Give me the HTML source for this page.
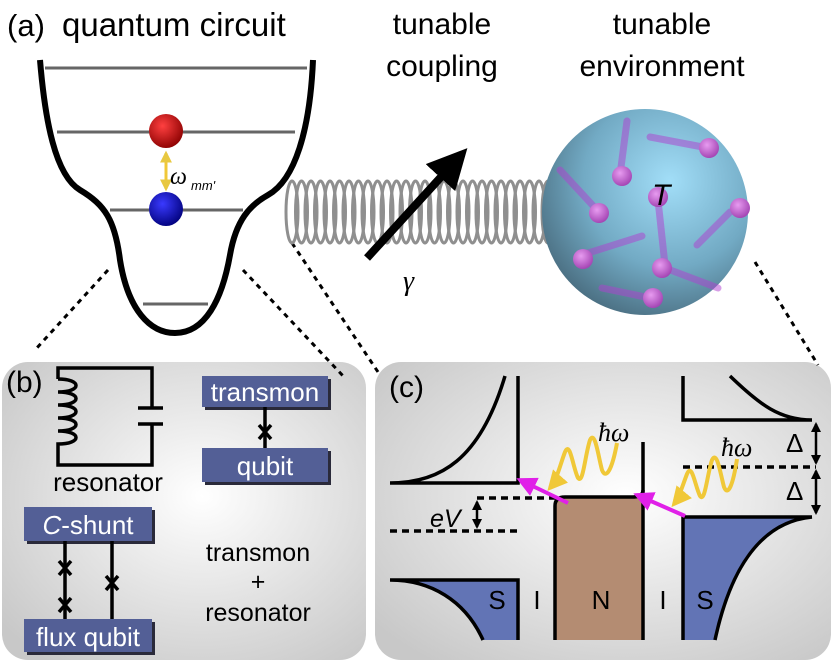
<!DOCTYPE html>
<html><head><meta charset="utf-8"><style>
html,body{margin:0;padding:0;background:#fff;}
svg{display:block;font-family:"Liberation Sans",sans-serif;}
</style></head><body>
<svg width="831" height="661" viewBox="0 0 831 661" xmlns="http://www.w3.org/2000/svg">
<defs>
<radialGradient id="pg" cx="0.55" cy="0.45" r="0.7"><stop offset="0" stop-color="#ffffff"/><stop offset="1" stop-color="#c8c8c8"/></radialGradient>
<radialGradient id="sph" cx="0.62" cy="0.35" r="0.7"><stop offset="0" stop-color="#a2def8"/><stop offset="0.6" stop-color="#72aac4"/><stop offset="1" stop-color="#4b6f82"/></radialGradient>
<radialGradient id="red" cx="0.4" cy="0.35" r="0.7"><stop offset="0" stop-color="#ff4040"/><stop offset="1" stop-color="#8a0000"/></radialGradient>
<radialGradient id="blue" cx="0.4" cy="0.35" r="0.7"><stop offset="0" stop-color="#3a3aff"/><stop offset="1" stop-color="#00007a"/></radialGradient>
<radialGradient id="pur" cx="0.4" cy="0.35" r="0.7"><stop offset="0" stop-color="#e79bf0"/><stop offset="1" stop-color="#a040b0"/></radialGradient>
<marker id="ah" viewBox="0 0 10 10" refX="8" refY="5" markerWidth="5" markerHeight="5" orient="auto"><path d="M0,0L10,5L0,10z" fill="#000"/></marker>
<marker id="mh" viewBox="0 0 10 10" refX="8" refY="5" markerWidth="5" markerHeight="5" orient="auto"><path d="M0,0L10,5L0,10z" fill="#e020e8"/></marker>
<marker id="yh" viewBox="0 0 10 10" refX="8" refY="5" markerWidth="5" markerHeight="5" orient="auto"><path d="M0,0L10,5L0,10z" fill="#f0c838"/></marker>
<marker id="bh" viewBox="0 0 10 10" refX="8" refY="5" markerWidth="4" markerHeight="4" orient="auto-start-reverse"><path d="M0,0L10,5L0,10z" fill="#000"/></marker>
<marker id="gh" viewBox="0 0 10 10" refX="8" refY="5" markerWidth="4" markerHeight="4" orient="auto-start-reverse"><path d="M0,0L10,5L0,10z" fill="#e8c840"/></marker>
</defs>

<rect x="2" y="362" width="364" height="298" rx="26" fill="url(#pg)"/>
<rect x="375" y="362" width="456" height="298" rx="26" fill="url(#pg)"/>

<text x="7" y="36" font-size="31">(a)</text>
<text x="62" y="36" font-size="33">quantum circuit</text>
<text x="442" y="34" font-size="30" text-anchor="middle">tunable</text>
<text x="442" y="76" font-size="30" text-anchor="middle">coupling</text>
<text x="662" y="34" font-size="30" text-anchor="middle">tunable</text>
<text x="662" y="76" font-size="30" text-anchor="middle">environment</text>

<g stroke="#000" stroke-width="3" stroke-dasharray="5,5" fill="none">
<line x1="108" y1="270" x2="35" y2="350"/>
<line x1="243" y1="270" x2="345" y2="378"/>
<line x1="292" y1="243" x2="380" y2="375"/>
<line x1="755" y1="262" x2="818" y2="365"/>
</g>

<g stroke="#666" stroke-width="3">
<line x1="45" y1="68" x2="307" y2="68"/>
<line x1="57" y1="132" x2="295" y2="132"/>
<line x1="110" y1="210" x2="243" y2="210"/>
<line x1="143" y1="304" x2="208" y2="304"/>
</g>
<path d="M40,60 C45,120 55,175 80,190 C105,205 115,220 120,260 C128,310 150,333 175,333 C205,333 222,300 230,255 C236,220 250,205 268,195 C295,180 310,130 313,60" fill="none" stroke="#000" stroke-width="6"/>
<line x1="166" y1="153" x2="166" y2="189" stroke="#f0c838" stroke-width="3" marker-start="url(#gh)" marker-end="url(#gh)"/>
<circle cx="166" cy="131" r="17" fill="url(#red)"/>
<circle cx="166" cy="209" r="17" fill="url(#blue)"/>
<text x="170" y="184" font-size="24" font-style="italic" font-family="Liberation Serif,serif">ω</text>
<text x="191" y="190" font-size="13" font-style="italic">mm'</text>

<g fill="none" stroke="#8f8f8f" stroke-width="3">
<ellipse cx="292" cy="212" rx="6" ry="31"/><ellipse cx="301.5" cy="212" rx="6" ry="31"/><ellipse cx="311" cy="212" rx="6" ry="31"/><ellipse cx="320.5" cy="212" rx="6" ry="31"/><ellipse cx="330" cy="212" rx="6" ry="31"/><ellipse cx="339.5" cy="212" rx="6" ry="31"/><ellipse cx="349" cy="212" rx="6" ry="31"/><ellipse cx="358.5" cy="212" rx="6" ry="31"/><ellipse cx="368" cy="212" rx="6" ry="31"/><ellipse cx="377.5" cy="212" rx="6" ry="31"/><ellipse cx="387" cy="212" rx="6" ry="31"/><ellipse cx="396.5" cy="212" rx="6" ry="31"/><ellipse cx="406" cy="212" rx="6" ry="31"/><ellipse cx="415.5" cy="212" rx="6" ry="31"/><ellipse cx="425" cy="212" rx="6" ry="31"/><ellipse cx="434.5" cy="212" rx="6" ry="31"/><ellipse cx="444" cy="212" rx="6" ry="31"/><ellipse cx="453.5" cy="212" rx="6" ry="31"/><ellipse cx="463" cy="212" rx="6" ry="31"/><ellipse cx="472.5" cy="212" rx="6" ry="31"/><ellipse cx="482" cy="212" rx="6" ry="31"/><ellipse cx="491.5" cy="212" rx="6" ry="31"/><ellipse cx="501" cy="212" rx="6" ry="31"/><ellipse cx="510.5" cy="212" rx="6" ry="31"/><ellipse cx="520" cy="212" rx="6" ry="31"/><ellipse cx="529.5" cy="212" rx="6" ry="31"/><ellipse cx="539" cy="212" rx="6" ry="31"/><ellipse cx="548" cy="212" rx="6" ry="31"/>
</g>

<circle cx="645" cy="212" r="103" fill="url(#sph)"/>
<g stroke-linecap="round" stroke="#b040d0" stroke-width="7" opacity="0.5">
<line x1="627" y1="121" x2="620" y2="175"/>
<line x1="650" y1="137" x2="708" y2="148"/>
<line x1="560" y1="170" x2="597" y2="210"/>
<line x1="658" y1="200" x2="665" y2="265"/>
<line x1="730" y1="212" x2="697" y2="245"/>
<line x1="582" y1="255" x2="642" y2="236"/>
<line x1="665" y1="268" x2="718" y2="288"/>
<line x1="602" y1="288" x2="650" y2="298"/>
</g>
<g fill="url(#pur)">
<circle cx="622" cy="176" r="10"/><circle cx="709" cy="148" r="10"/><circle cx="599" cy="213" r="10"/>
<circle cx="658" cy="197" r="10"/><circle cx="740" cy="208" r="10"/><circle cx="583" cy="259" r="10"/>
<circle cx="662" cy="268" r="10"/><circle cx="653" cy="298" r="10"/>
</g>
<text x="652" y="205" font-size="30" font-style="italic">T</text>

<line x1="367" y1="258" x2="462" y2="154" stroke="#000" stroke-width="8" marker-end="url(#ah)"/>
<text x="403" y="290" font-size="28" font-style="italic" font-family="Liberation Serif,serif">γ</text>

<text x="6" y="392" font-size="30">(b)</text>
<path d="M70,368 L152,368 L152,408 M138,408 L163,408 M138,424 L163,424 M152,424 L152,465 L58,465 L58,447 M58,379 L58,368 L70,368" fill="none" stroke="#000" stroke-width="3.5"/>
<path d="M58,379 C82,379 82,392 58,392 C82,392 82,405 58,405 C82,405 82,418 58,418 C82,418 82,431 58,431 C82,431 82,444 58,444 L58,447" fill="none" stroke="#000" stroke-width="3.5"/>
<text x="108" y="491" font-size="26" text-anchor="middle">resonator</text>

<g fill="#2a2a3a"><rect x="205" y="379" width="126" height="31"/><rect x="205" y="451" width="126" height="34"/><rect x="27" y="510" width="128" height="34"/><rect x="27" y="622" width="128" height="33"/></g>
<g fill="#535f96"><rect x="202" y="376" width="126" height="31"/><rect x="202" y="448" width="126" height="34"/><rect x="24" y="507" width="128" height="34"/><rect x="24" y="619" width="128" height="33"/></g>
<g fill="#fff" font-size="26" text-anchor="middle">
<text x="265" y="401">transmon</text><text x="265" y="475">qubit</text>
<text x="88" y="534"><tspan font-style="italic">C</tspan>-shunt</text><text x="88" y="646">flux qubit</text>
</g>
<g stroke="#000" stroke-width="3.5">
<line x1="265" y1="407" x2="265" y2="448"/><path d="M259,425 L271,439 M271,425 L259,439"/>
<line x1="65" y1="541" x2="65" y2="619"/><path d="M59,561 L71,575 M71,561 L59,575 M59,598 L71,612 M71,598 L59,612"/>
<line x1="112" y1="541" x2="112" y2="619"/><path d="M106,576 L118,590 M118,576 L106,590"/>
</g>
<g font-size="25" text-anchor="middle"><text x="258" y="561">transmon</text><text x="258" y="590">+</text><text x="258" y="621">resonator</text></g>

<text x="389" y="397" font-size="30">(c)</text>
<path d="M390,580 C430,580 465,600 483,640 L518,640 L518,580 Z" fill="#6274b5"/>
<path d="M683,517 L812,517 C760,522 730,570 715,640 L683,640 Z" fill="#6274b5"/>
<path d="M555,640 L555,506 Q555,497 565,497 L633,497 Q643,497 643,490 L643,640 Z" fill="#b48c72"/>
<g fill="none" stroke="#000" stroke-width="3.5">
<path d="M555,640 L555,506 Q555,497 565,497 L633,497 Q643,497 643,490"/>
<line x1="643" y1="442" x2="643" y2="640"/>
<path d="M390,483 L518,483 L518,376 M390,483 C440,483 480,460 505,376"/>
<path d="M390,580 C430,580 465,600 483,640 M390,580 L518,580 L518,640"/>
<path d="M683,376 L683,420 L812,420 M730,376 C760,405 780,420 812,420"/>
<path d="M812,517 L683,517 L683,640 M812,517 C760,522 730,570 715,640"/>
</g>
<g stroke="#000" stroke-width="3.5" stroke-dasharray="7,5">
<line x1="477" y1="498" x2="555" y2="498"/>
<line x1="390" y1="531" x2="518" y2="531"/>
<line x1="683" y1="467" x2="816" y2="467"/>
</g>
<g stroke="#000" stroke-width="2.5">
<line x1="477" y1="502" x2="477" y2="527" marker-start="url(#bh)" marker-end="url(#bh)"/>
<line x1="816" y1="424" x2="816" y2="463" marker-start="url(#bh)" marker-end="url(#bh)"/>
<line x1="816" y1="471" x2="816" y2="513" marker-start="url(#bh)" marker-end="url(#bh)"/>
</g>
<text x="430" y="527" font-size="25" font-style="italic">eV</text>
<text x="786" y="452" font-size="26">Δ</text>
<text x="786" y="500" font-size="26">Δ</text>
<g fill="none" stroke="#f0c838" stroke-width="4">
<path d="M617,443 C612,470 606,480 602,470 C598,455 595,430 590,440 C585,455 583,485 578,478 C573,468 570,440 565,452 C560,465 557,480 550,488" marker-end="url(#yh)"/>
<path d="M737,459 C733,485 728,497 724,487 C720,472 717,450 712,460 C707,475 705,503 700,496 C695,486 692,462 687,474 C682,487 679,498 674,504" marker-end="url(#yh)"/>
</g>
<g stroke="#e020e8" stroke-width="4">
<line x1="568" y1="503" x2="520" y2="480" marker-end="url(#mh)"/>
<line x1="685" y1="516" x2="637" y2="495" marker-end="url(#mh)"/>
</g>
<text x="598" y="441" font-size="26" font-style="italic" font-family="Liberation Serif,serif">ħω</text>
<text x="721" y="456" font-size="26" font-style="italic" font-family="Liberation Serif,serif">ħω</text>
<g font-size="26" text-anchor="middle">
<text x="497" y="609">S</text><text x="537" y="609">I</text><text x="601" y="609">N</text><text x="663" y="609">I</text><text x="705" y="609">S</text>
</g>
</svg>
</body></html>
